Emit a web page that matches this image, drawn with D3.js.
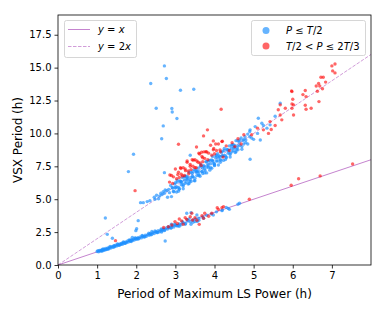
<!DOCTYPE html>
<html lang="en">
<head>
<meta charset="UTF-8">
<title>VSX vs LS period</title>
<script src="https://cdn.jsdelivr.net/npm/d3@7"></script>
<style>
  body { margin: 0; background: #fff; }
  svg { font-family: "DejaVu Sans", sans-serif; }
</style>
</head>
<body>
<svg width="390" height="312"></svg>
<script>
// P <= T/2 : lower branch (y = x)
var blueLow = [[1.00,1.03],[1.02,1.08],[1.04,1.01],[1.06,1.10],[1.08,1.06],[1.10,1.12],[1.12,1.05],[1.14,1.16],[1.16,1.10],[1.18,1.20],
  [1.20,1.14],[1.22,1.25],[1.25,1.19],[1.27,1.30],[1.30,1.24],[1.32,1.34],[1.35,1.29],[1.37,1.40],[1.40,1.35],[1.42,1.45],
  [1.45,1.40],[1.47,1.50],[1.50,1.44],[1.53,1.56],[1.55,1.49],[1.58,1.60],[1.60,1.55],[1.63,1.66],[1.65,1.58],[1.68,1.71],
  [1.70,1.64],[1.73,1.76],[1.75,1.70],[1.78,1.82],[1.80,1.74],[1.83,1.87],[1.85,1.80],[1.88,1.92],[1.90,1.85],[1.93,1.97],
  [1.95,1.90],[1.98,2.03],[2.00,1.95],[2.04,2.08],[2.07,2.01],[2.10,2.14],[2.13,2.06],[2.16,2.20],[2.20,2.13],[2.23,2.27],
  [2.26,2.19],[2.30,2.33],[2.33,2.26],[2.36,2.40],[2.40,2.33],[2.43,2.47],[2.46,2.39],[2.50,2.54],[2.53,2.46],[2.56,2.60],
  [2.60,2.53],[2.63,2.67],[2.66,2.60],[2.70,2.74],[2.73,2.66],[2.77,2.81],[2.80,2.73],[2.84,2.88],[2.88,2.80],[2.92,2.96],
  [2.96,2.89],[3.00,3.04],[3.05,2.96],[3.10,3.12],[3.15,3.06],[3.20,3.22],[3.26,3.15],[3.32,3.34],[3.38,3.28],[3.45,3.42],
  [3.52,3.50],[3.60,3.56],[3.70,3.66],[3.80,3.78],[3.92,3.88],[4.05,4.04],[4.20,4.18],[4.35,4.30],[4.60,4.62],
  [1.12,1.13],[1.28,1.22],[1.44,1.47],[1.62,1.62],[1.86,1.88],[2.02,2.00],[2.18,2.16],[2.35,2.36],[2.52,2.50],[2.68,2.70],
  [2.85,2.84],[3.02,3.00],[1.90,2.10],[2.40,2.55],[2.65,2.50],[2.90,3.10],[3.10,2.95],[3.30,3.45],[3.40,3.10],[3.60,3.40],
  [3.50,3.30],[3.55,3.80],[3.56,3.30],[3.72,3.55],[3.97,3.80],[4.19,4.13],[4.30,4.38],[4.38,4.23],[4.64,4.69],[3.29,3.93],
  [3.40,3.97],
  [1.15,1.22],[1.23,1.17],[1.33,1.41],[1.43,1.36],[1.52,1.60],[1.57,1.51],[1.67,1.75],[1.72,1.65],[1.82,1.90],[1.87,1.79],
  [1.97,2.06],[2.05,1.98],[2.15,2.24],[2.22,2.14],[2.32,2.41],[2.38,2.30],[2.48,2.58],[2.55,2.47],[2.64,2.74],[2.72,2.62],
  [2.82,2.92],[2.90,2.83],[2.98,3.10],[3.08,3.00],[3.18,3.30],[3.25,3.10],[3.35,3.50],[3.45,3.25]];

// P <= T/2 : upper branch (y = 2x)
var blueHigh = [[2.11,4.74],[2.18,4.74],[2.28,4.82],[2.35,4.89],[2.46,5.15],[2.48,5.00],[2.52,5.30],[2.57,5.04],[2.63,5.45],[2.69,5.58],
  [2.74,5.70],[2.78,5.65],[2.60,5.25],[2.66,5.35],[2.72,5.45],
  [2.80,5.15],[2.83,5.75],[2.85,5.50],[2.88,6.05],[2.90,5.20],[2.93,5.85],[2.95,5.60],[2.98,6.15],[3.00,5.90],[3.03,5.55],
  [3.05,6.45],[3.08,5.90],[3.10,5.75],[3.13,6.35],[3.15,6.10],[3.18,6.65],[3.20,5.80],[3.23,6.45],[3.25,6.20],[3.28,6.75],
  [3.30,6.50],[3.33,6.15],[3.35,7.05],[3.38,6.50],[3.40,6.35],[3.43,6.95],[3.45,6.70],[3.48,7.25],[3.50,6.40],[3.53,7.05],
  [3.55,6.80],[3.58,7.35],[3.60,7.10],[3.63,6.75],[3.65,7.65],[3.68,7.10],[3.70,6.95],[3.73,7.55],[3.75,7.30],[3.78,7.85],
  [3.80,7.00],[3.83,7.65],[3.85,7.40],[3.88,7.95],[3.90,7.70],[3.93,7.35],[3.95,8.25],[3.98,7.70],[4.00,7.55],[4.03,8.15],
  [4.05,7.90],[4.08,8.45],[4.10,7.60],[4.13,8.25],[4.15,8.00],[4.18,8.55],[4.20,8.30],[4.23,7.95],[4.25,8.85],[4.28,8.30],
  [4.30,8.15],[4.33,8.75],[4.35,8.50],[4.38,9.05],[4.40,8.20],[4.43,8.85],[4.45,8.60],[4.48,9.15],[4.50,8.90],[4.53,8.55],
  [4.55,9.45],[4.58,8.90],[4.60,8.75],[4.63,9.35],[4.65,9.10],[4.68,9.65],[4.70,8.80],[4.73,9.45],[4.75,9.20],[4.78,9.75],
  [4.80,9.50],[4.85,9.20],[4.90,10.15],[4.95,9.65],[5.00,9.55],
  [2.92,5.89],[2.96,5.57],[3.00,6.25],[3.04,5.93],[3.08,5.61],[3.12,6.39],[3.16,6.27],[3.20,6.00],[3.24,6.68],[3.28,6.31],
  [3.32,6.69],[3.36,6.37],[3.40,7.05],[3.44,6.73],[3.48,6.41],[3.52,7.19],[3.56,7.07],[3.60,6.80],[3.64,7.48],[3.68,7.11],
  [3.72,7.49],[3.76,7.17],[3.80,7.85],[3.84,7.53],[3.88,7.21],[3.92,7.99],[3.96,7.87],[4.00,7.60],[4.04,8.28],[4.08,7.91],
  [4.12,8.29],[4.16,7.97],[4.20,8.65],[4.24,8.33],[4.28,8.01],[4.32,8.79],[4.36,8.67],[4.40,8.40],[4.44,9.08],[4.48,8.71],
  [4.52,9.09],[4.56,8.77],[4.60,9.45],
  [3.00,5.85],[3.05,6.30],[3.10,5.80],[3.15,6.35],[3.20,6.10],[3.25,6.75],[3.30,6.55],[3.35,6.20],[3.40,6.65],[3.45,7.10],
  [3.50,6.60],[3.55,7.15],[3.60,6.90],[3.65,7.55],[3.70,7.35],[3.75,7.00],[3.80,7.45],[3.85,7.90],[3.90,7.40],[3.95,7.95],
  [4.00,7.70],[4.05,8.35],[4.10,8.15],[4.15,7.80],[4.20,8.25],[4.25,8.70],[4.30,8.20],[4.35,8.75],[4.40,8.50],[4.45,9.15],
  [4.50,8.95],[4.55,8.60],[4.60,9.05],[4.65,9.50],[4.70,9.00],[4.75,9.55],[4.80,9.30],[4.85,9.95],[4.90,9.75],
  [5.04,10.52],[5.12,11.15],[5.21,10.77],[5.34,10.40],[4.91,10.27],[5.10,10.00],[5.25,10.60],[5.42,10.65],[5.55,11.30],[5.68,12.30]];

// P <= T/2 : scattered
var blueOut = [[2.72,15.13],[2.77,14.17],[2.37,13.79],[3.13,13.28],[3.47,13.36],[2.51,11.91],[2.91,11.89],[2.92,11.63],[3.04,11.13],
  [2.69,10.57],[2.65,9.60],[1.93,8.42],[3.38,8.34],[1.80,7.10],[2.72,7.02],[4.91,8.04],[5.17,9.50],[1.21,3.57],[2.05,3.37],
  [2.01,2.76],[1.99,2.61],[1.26,2.33],[1.39,2.03],[2.74,1.82]];

// T/2 < P <= 2T/3 : lower branch
var redLow = [[2.82,2.91],[2.91,3.04],[2.99,3.30],[3.16,3.35],[3.29,3.47],[3.38,3.67],[3.42,3.93],[3.61,3.09],[3.75,3.93],[3.93,3.93],
  [4.07,4.36],[4.19,4.36],[4.10,4.23],[4.23,4.44],[3.44,3.42],[3.72,3.55],[4.89,5.00],[5.96,6.06],[6.15,6.56],[6.70,6.77],
  [7.53,7.68],[1.47,1.85],[3.05,3.15],[3.20,3.10],[3.50,3.60],[3.55,3.40],[3.25,3.60],[3.10,3.50],[2.70,2.85],[3.68,3.75],
  [3.85,3.70]];

// T/2 < P <= 2T/3 : upper branch
var redHigh = [[2.85,6.30],[2.90,6.80],[2.93,6.20],[2.95,6.70],[3.00,7.30],[3.03,6.55],[3.08,7.05],
  [3.10,6.65],[3.13,7.40],[3.15,6.90],[3.20,7.40],[3.23,6.80],[3.25,7.30],[3.30,7.90],[3.33,7.15],
  [3.38,7.65],[3.40,7.25],[3.43,8.00],[3.45,7.50],[3.50,8.00],[3.53,7.40],[3.55,7.90],
  [3.60,8.50],[3.63,7.75],[3.68,8.25],[3.70,7.85],[3.73,8.60],[3.75,8.10],[3.80,8.60],[3.83,8.00],
  [3.85,8.50],[3.90,9.10],[3.93,8.35],[3.98,8.85],[4.00,8.45],[4.03,9.20],[4.05,8.70],
  [4.10,9.20],
  [3.06,6.87],[3.14,7.33],[3.18,6.76],[3.26,7.17],[3.30,7.80],[3.34,6.93],[3.38,7.51],
  [3.46,7.97],[3.50,7.40],[3.58,7.81],[3.62,8.44],[3.66,7.57],[3.70,8.15],[3.78,8.61],
  [4.15,8.60],[4.22,8.20],[4.30,9.05],[4.38,8.70],[4.45,9.30],[4.52,9.00],[4.60,9.60],[4.68,9.20],[4.75,9.90],[4.20,9.40],
  [4.95,9.90],[5.10,10.40],[5.25,10.27],[5.38,10.00],[5.45,10.30],[5.42,10.90],[5.55,10.60],[5.72,11.03],[5.68,11.40],[5.63,11.80],
  [5.68,12.17],[6.02,12.17],[5.98,13.18],[5.81,11.91],[5.98,11.91],[6.02,11.40],[5.98,12.24],[6.00,12.60],[5.97,13.23],[6.32,13.26],
  [6.26,12.95],[6.34,12.80],[6.32,12.14],[6.34,11.84],[6.47,11.91],[6.67,12.42],[6.63,13.20],[6.76,13.40],[6.60,13.60],[6.69,13.60],
  [6.66,13.80],[6.84,13.90],[6.72,14.27],[6.78,14.27],[7.02,14.75],[7.08,14.60],[7.00,15.13],[7.08,15.28]];

// T/2 < P <= 2T/3 : scattered
var redOut = [[3.08,9.18],[3.54,8.97],[3.82,10.27],[3.67,8.57],[3.72,9.81],[3.97,9.43],[4.17,11.84],[4.19,9.38],[3.97,8.75],
  [4.14,8.75],[1.97,5.65],[2.86,6.84]];

var xTicks = [0, 1, 2, 3, 4, 5, 6, 7];
var yTicks = [0, 2.5, 5, 7.5, 10, 12.5, 15, 17.5];

var svg = d3.select('svg');
var mLeft = 58, mTop = 15, mRight = 371, mBottom = 265;

var x = d3.scaleLinear().domain([0, 8]).range([mLeft, mRight]);
var y = d3.scaleLinear().domain([0, 19]).range([mBottom, mTop]);

var blueColor = '#1e90ff', redColor = '#ff0000', lineColor = '#c584cf';

// reference lines
var g = svg.append('g');
g.append('line')
  .attr('x1', x(0)).attr('y1', y(0)).attr('x2', x(8)).attr('y2', y(8))
  .attr('stroke', lineColor).attr('stroke-width', 1);
g.append('line')
  .attr('x1', x(0)).attr('y1', y(0)).attr('x2', x(8)).attr('y2', y(16))
  .attr('stroke', lineColor).attr('stroke-width', 1).attr('stroke-opacity', 0.8)
  .attr('stroke-dasharray', '3.5,1.5');

var blue = blueLow.concat(blueHigh, blueOut);
var red = redLow.concat(redHigh, redOut);

g.selectAll('circle.b').data(blue).enter().append('circle')
  .attr('class', 'b')
  .attr('cx', function (d) { return x(d[0]); })
  .attr('cy', function (d) { return y(d[1]); })
  .attr('r', 1.7)
  .attr('fill', blueColor).attr('fill-opacity', 0.68);

g.selectAll('circle.r').data(red).enter().append('circle')
  .attr('class', 'r')
  .attr('cx', function (d) { return x(d[0]); })
  .attr('cy', function (d) { return y(d[1]); })
  .attr('r', 1.7)
  .attr('fill', redColor).attr('fill-opacity', 0.6);

// axes
var axisX = d3.axisBottom(x).tickValues(xTicks).tickFormat(d3.format('d')).tickSize(3.5).tickPadding(3);
var axisY = d3.axisLeft(y).tickValues(yTicks).tickFormat(d3.format('.1f')).tickSize(3.5).tickPadding(3);

var gx = svg.append('g').attr('transform', 'translate(0,' + mBottom + ')').call(axisX);
var gy = svg.append('g').attr('transform', 'translate(' + mLeft + ',0)').call(axisY);
[gx, gy].forEach(function (a) {
  a.select('.domain').remove();
  a.selectAll('text').attr('font-size', 10).attr('fill', '#000').attr('font-family', 'DejaVu Sans');
  a.selectAll('line').attr('stroke', '#000').attr('stroke-width', 0.8);
});

svg.append('rect')
  .attr('x', mLeft).attr('y', mTop).attr('width', mRight - mLeft).attr('height', mBottom - mTop)
  .attr('fill', 'none').attr('stroke', '#000').attr('stroke-width', 0.8);

svg.append('text')
  .attr('x', (mLeft + mRight) / 2).attr('y', 298)
  .attr('text-anchor', 'middle').attr('font-size', 12)
  .text('Period of Maximum LS Power (h)');

svg.append('text')
  .attr('transform', 'translate(22,' + ((mTop + mBottom) / 2) + ') rotate(-90)')
  .attr('text-anchor', 'middle').attr('font-size', 12)
  .text('VSX Period (h)');

// legend: lines
var leg1 = svg.append('g');
leg1.append('rect').attr('x', 64.5).attr('y', 20.5).attr('width', 72).attr('height', 37)
  .attr('rx', 2).attr('fill', '#fff').attr('fill-opacity', 0.8).attr('stroke', '#ccc').attr('stroke-width', 0.8);
leg1.append('line').attr('x1', 68).attr('x2', 90).attr('y1', 29.5).attr('y2', 29.5)
  .attr('stroke', lineColor).attr('stroke-width', 1);
leg1.append('line').attr('x1', 68).attr('x2', 90).attr('y1', 46.5).attr('y2', 46.5)
  .attr('stroke', lineColor).attr('stroke-width', 1).attr('stroke-opacity', 0.8).attr('stroke-dasharray', '3.5,1.5');
var t1 = leg1.append('text').attr('x', 98).attr('y', 33).attr('font-size', 10);
t1.append('tspan').attr('font-style', 'italic').text('y');
t1.append('tspan').text(' = ');
t1.append('tspan').attr('font-style', 'italic').text('x');
var t2 = leg1.append('text').attr('x', 98).attr('y', 50).attr('font-size', 10);
t2.append('tspan').attr('font-style', 'italic').text('y');
t2.append('tspan').text(' = 2');
t2.append('tspan').attr('font-style', 'italic').text('x');

// legend: markers
var leg2 = svg.append('g');
leg2.append('rect').attr('x', 251.5).attr('y', 20.5).attr('width', 114).attr('height', 35)
  .attr('rx', 2).attr('fill', '#fff').attr('fill-opacity', 0.8).attr('stroke', '#ccc').attr('stroke-width', 0.8);
leg2.append('circle').attr('cx', 266).attr('cy', 30.5).attr('r', 3.5).attr('fill', blueColor).attr('fill-opacity', 0.68);
leg2.append('circle').attr('cx', 266).attr('cy', 46).attr('r', 3.5).attr('fill', redColor).attr('fill-opacity', 0.6);
var t3 = leg2.append('text').attr('x', 286).attr('y', 34).attr('font-size', 10);
t3.append('tspan').attr('font-style', 'italic').text('P');
t3.append('tspan').text(' \u2264 ');
t3.append('tspan').attr('font-style', 'italic').text('T');
t3.append('tspan').text('/2');
var t4 = leg2.append('text').attr('x', 286).attr('y', 50).attr('font-size', 10);
t4.append('tspan').attr('font-style', 'italic').text('T');
t4.append('tspan').text('/2 < ');
t4.append('tspan').attr('font-style', 'italic').text('P');
t4.append('tspan').text(' \u2264 2');
t4.append('tspan').attr('font-style', 'italic').text('T');
t4.append('tspan').text('/3');
</script>
</body>
</html>
